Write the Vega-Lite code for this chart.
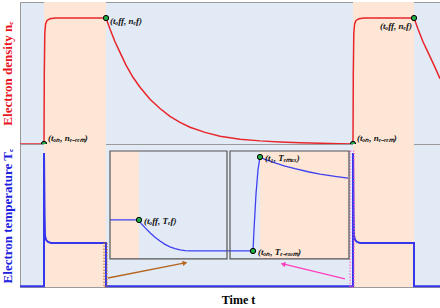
{
  "$schema": "https://vega.github.io/schema/vega-lite/v6.json",
  "padding": {"left": 0, "top": 1, "right": 0, "bottom": 0},
  "spacing": 0,
  "bounds": "flush",
  "config": {
    "view": {"stroke": "#9a9a9a", "fill": "#e2eaf6", "strokeWidth": 1},
    "axis": {"labels": false, "ticks": false, "domain": false, "grid": false, "titleFont": "Liberation Serif", "titleFontWeight": "bold", "titleFontSize": 13, "minExtent": 0},
    "text": {"font": "Liberation Serif", "fontWeight": "bold", "fontStyle": "italic", "fontSize": 9, "baseline": "middle", "color": "#111111"}
  },
  "datasets": {
    "bands": [{"t0": 24, "t1": 86}, {"t0": 333, "t1": 394}],
    "ne": [
      {"t": 0, "v": 0}, {"t": 24, "v": 0}, {"t": 24.3, "v": 0.5}, {"t": 24.8, "v": 0.78}, {"t": 25.6, "v": 0.845},
      {"t": 27, "v": 0.87}, {"t": 30, "v": 0.882}, {"t": 35, "v": 0.887}, {"t": 86, "v": 0.887},
      {"t": 90, "v": 0.81}, {"t": 95, "v": 0.72}, {"t": 100, "v": 0.645}, {"t": 106, "v": 0.555},
      {"t": 113, "v": 0.47}, {"t": 120, "v": 0.4}, {"t": 130, "v": 0.315}, {"t": 140, "v": 0.25},
      {"t": 150, "v": 0.195}, {"t": 160, "v": 0.152}, {"t": 170, "v": 0.118}, {"t": 185, "v": 0.082},
      {"t": 200, "v": 0.055}, {"t": 220, "v": 0.034}, {"t": 240, "v": 0.022}, {"t": 260, "v": 0.014},
      {"t": 280, "v": 0.009}, {"t": 300, "v": 0.005}, {"t": 320, "v": 0.002}, {"t": 333, "v": 0},
      {"t": 333.3, "v": 0.5}, {"t": 333.8, "v": 0.78}, {"t": 334.6, "v": 0.845}, {"t": 336, "v": 0.87},
      {"t": 339, "v": 0.882}, {"t": 344, "v": 0.887}, {"t": 394, "v": 0.887}, {"t": 398, "v": 0.81},
      {"t": 403, "v": 0.72}, {"t": 408, "v": 0.645}, {"t": 414, "v": 0.555}, {"t": 420, "v": 0.46}
    ],
    "te": [
      {"i": 0, "t": 0, "v": 0.005}, {"i": 1, "t": 24, "v": 0.005}, {"i": 2, "t": 24, "v": 0.937},
      {"i": 3, "t": 24.6, "v": 0.5}, {"i": 4, "t": 25, "v": 0.36}, {"i": 5, "t": 26, "v": 0.33},
      {"i": 6, "t": 28, "v": 0.315}, {"i": 7, "t": 31, "v": 0.308}, {"i": 8, "t": 86, "v": 0.308},
      {"i": 9, "t": 86, "v": 0.005}, {"i": 10, "t": 333, "v": 0.005}, {"i": 11, "t": 333, "v": 0.937},
      {"i": 12, "t": 333.6, "v": 0.5}, {"i": 13, "t": 334, "v": 0.36}, {"i": 14, "t": 335, "v": 0.33},
      {"i": 15, "t": 337, "v": 0.315}, {"i": 16, "t": 340, "v": 0.308}, {"i": 17, "t": 394, "v": 0.308},
      {"i": 18, "t": 394, "v": 0.005}, {"i": 19, "t": 420, "v": 0.005}
    ],
    "insetBands": [
      {"t0": 90, "t1": 119, "v0": 0.196, "v1": 0.951, "kind": "on"},
      {"t0": 119, "t1": 207, "v0": 0.196, "v1": 0.951, "kind": "off"},
      {"t0": 210, "t1": 240, "v0": 0.196, "v1": 0.951, "kind": "off"},
      {"t0": 240, "t1": 329, "v0": 0.196, "v1": 0.951, "kind": "on"}
    ],
    "insetBoxes": [
      {"t0": 90, "t1": 207, "v0": 0.196, "v1": 0.951},
      {"t0": 210, "t1": 329, "v0": 0.196, "v1": 0.951}
    ],
    "insetLine": [
      {"t": 90, "v": 0.469}, {"t": 119, "v": 0.469}, {"t": 121, "v": 0.445}, {"t": 125, "v": 0.415},
      {"t": 130, "v": 0.38}, {"t": 135, "v": 0.348}, {"t": 140, "v": 0.322}, {"t": 145, "v": 0.298},
      {"t": 150, "v": 0.281}, {"t": 155, "v": 0.268}, {"t": 160, "v": 0.259}, {"t": 165, "v": 0.254},
      {"t": 170, "v": 0.252}, {"t": 233, "v": 0.252}, {"t": 234, "v": 0.4}, {"t": 236, "v": 0.65},
      {"t": 238, "v": 0.82}, {"t": 240, "v": 0.909}, {"t": 245, "v": 0.893}, {"t": 255, "v": 0.868},
      {"t": 265, "v": 0.846}, {"t": 275, "v": 0.827}, {"t": 288, "v": 0.806}, {"t": 300, "v": 0.789},
      {"t": 315, "v": 0.774}, {"t": 328, "v": 0.762}
    ],
    "dotted": [
      {"t0": 84, "t1": 87, "v0": 0, "v1": 0.308, "c": "fall"},
      {"t0": 330, "t1": 334, "v0": 0, "v1": 0.951, "c": "rise"}
    ],
    "arrows": [
      {"id": "fall", "t": 88, "v": 0.063}, {"id": "fall", "t": 165, "v": 0.168},
      {"id": "rise", "t": 325, "v": 0.056}, {"id": "rise", "t": 263, "v": 0.161}
    ],
    "ptsTop": [
      {"t": 24, "v": 0, "k": "on", "label": "(tₒₙ, nₑ₋ᵣₑₘ)"},
      {"t": 86, "v": 0.887, "k": "off1", "label": "(tₒff, nₑf)"},
      {"t": 333, "v": 0, "k": "on", "label": "(tₒₙ, nₑ₋ᵣₑₘ)"},
      {"t": 394, "v": 0.887, "k": "off2", "label": "(tₒff, nₑf)"}
    ],
    "ptsBottom": [
      {"t": 119, "v": 0.469, "label": "(tₒff, Tₑf)"},
      {"t": 240, "v": 0.909, "label": "(t₁, Tₑₘₐₓ)"},
      {"t": 233, "v": 0.252, "label": "(tₒₙ, Tₑ₋ᵣₒₒₘ)"}
    ]
  },
  "vconcat": [
    {
      "width": 420,
      "height": 142,
      "layer": [
        {
          "data": {"name": "bands"},
          "mark": {"type": "rect", "color": "#fde6d5"},
          "encoding": {
            "x": {"field": "t0", "type": "quantitative", "scale": {"domain": [0, 420], "nice": false, "zero": false}, "axis": null},
            "x2": {"field": "t1"}
          }
        },
        {
          "data": {"name": "ne"},
          "mark": {"type": "line", "color": "#e8262a", "strokeWidth": 1.5},
          "encoding": {
            "x": {"field": "t", "type": "quantitative", "scale": {"domain": [0, 420], "nice": false, "zero": false}, "axis": null},
            "y": {"field": "v", "type": "quantitative", "scale": {"domain": [0, 1], "nice": false}, "axis": {"title": "Electron density nₑ", "titleColor": "#e8141e", "titlePadding": 6}}
          }
        },
        {
          "data": {"name": "ptsTop"},
          "mark": {"type": "point", "filled": true, "fill": "#22aa44", "stroke": "#000000", "strokeWidth": 1, "size": 28, "opacity": 1},
          "encoding": {
            "x": {"field": "t", "type": "quantitative", "scale": {"domain": [0, 420], "nice": false, "zero": false}, "axis": null},
            "y": {"field": "v", "type": "quantitative", "scale": {"domain": [0, 1], "nice": false}, "axis": {"title": "Electron density nₑ", "titleColor": "#e8141e", "titlePadding": 6}}
          }
        },
        {
          "data": {"name": "ptsTop"},
          "transform": [{"filter": "datum.k === 'on'"}],
          "mark": {"type": "text", "align": "left", "dx": 4, "dy": -6},
          "encoding": {
            "x": {"field": "t", "type": "quantitative", "scale": {"domain": [0, 420], "nice": false, "zero": false}, "axis": null},
            "y": {"field": "v", "type": "quantitative", "scale": {"domain": [0, 1], "nice": false}, "axis": {"title": "Electron density nₑ", "titleColor": "#e8141e", "titlePadding": 6}},
            "text": {"field": "label"}
          }
        },
        {
          "data": {"name": "ptsTop"},
          "transform": [{"filter": "datum.k === 'off1'"}],
          "mark": {"type": "text", "align": "left", "dx": 4, "dy": 3},
          "encoding": {
            "x": {"field": "t", "type": "quantitative", "scale": {"domain": [0, 420], "nice": false, "zero": false}, "axis": null},
            "y": {"field": "v", "type": "quantitative", "scale": {"domain": [0, 1], "nice": false}, "axis": {"title": "Electron density nₑ", "titleColor": "#e8141e", "titlePadding": 6}},
            "text": {"field": "label"}
          }
        },
        {
          "data": {"name": "ptsTop"},
          "transform": [{"filter": "datum.k === 'off2'"}],
          "mark": {"type": "text", "align": "right", "dx": -2, "dy": 8},
          "encoding": {
            "x": {"field": "t", "type": "quantitative", "scale": {"domain": [0, 420], "nice": false, "zero": false}, "axis": null},
            "y": {"field": "v", "type": "quantitative", "scale": {"domain": [0, 1], "nice": false}, "axis": {"title": "Electron density nₑ", "titleColor": "#e8141e", "titlePadding": 6}},
            "text": {"field": "label"}
          }
        }
      ]
    },
    {
      "width": 420,
      "height": 143,
      "layer": [
        {
          "data": {"name": "bands"},
          "mark": {"type": "rect", "color": "#fde6d5"},
          "encoding": {
            "x": {"field": "t0", "type": "quantitative", "scale": {"domain": [0, 420], "nice": false, "zero": false}, "axis": {"title": "Time t", "titlePadding": 7, "titleX": 218, "titleFontSize": 12}},
            "x2": {"field": "t1"}
          }
        },
        {
          "data": {"name": "te"},
          "mark": {"type": "line", "color": "#3636ec", "strokeWidth": 2},
          "encoding": {
            "x": {"field": "t", "type": "quantitative", "scale": {"domain": [0, 420], "nice": false, "zero": false}, "axis": {"title": "Time t", "titlePadding": 7, "titleX": 218, "titleFontSize": 12}},
            "y": {"field": "v", "type": "quantitative", "scale": {"domain": [0, 1], "nice": false}, "axis": {"title": "Electron temperature Tₑ", "titleColor": "#2020e0", "titlePadding": 6}},
            "order": {"field": "i", "type": "quantitative"}
          }
        },
        {
          "data": {"name": "dotted"},
          "mark": {"type": "rect", "fill": null, "fillOpacity": 0, "strokeWidth": 1, "strokeDash": [1.5, 1.5]},
          "encoding": {
            "x": {"field": "t0", "type": "quantitative", "scale": {"domain": [0, 420], "nice": false, "zero": false}, "axis": {"title": "Time t", "titlePadding": 7, "titleX": 218, "titleFontSize": 12}},
            "x2": {"field": "t1"},
            "y": {"field": "v0", "type": "quantitative", "scale": {"domain": [0, 1], "nice": false}, "axis": {"title": "Electron temperature Tₑ", "titleColor": "#2020e0", "titlePadding": 6}},
            "y2": {"field": "v1"},
            "stroke": {"field": "c", "type": "nominal", "scale": {"domain": ["fall", "rise"], "range": ["#b5651d", "#ff4fc8"]}, "legend": null}
          }
        },
        {
          "data": {"name": "insetBands"},
          "mark": {"type": "rect", "opacity": 1},
          "encoding": {
            "x": {"field": "t0", "type": "quantitative", "scale": {"domain": [0, 420], "nice": false, "zero": false}, "axis": {"title": "Time t", "titlePadding": 7, "titleX": 218, "titleFontSize": 12}},
            "x2": {"field": "t1"},
            "y": {"field": "v0", "type": "quantitative", "scale": {"domain": [0, 1], "nice": false}, "axis": {"title": "Electron temperature Tₑ", "titleColor": "#2020e0", "titlePadding": 6}},
            "y2": {"field": "v1"},
            "fill": {"field": "kind", "type": "nominal", "scale": {"domain": ["on", "off"], "range": ["#fde6d5", "#e2eaf6"]}, "legend": null}
          }
        },
        {
          "data": {"name": "insetLine"},
          "mark": {"type": "line", "color": "#4040f0", "strokeWidth": 1.3},
          "encoding": {
            "x": {"field": "t", "type": "quantitative", "scale": {"domain": [0, 420], "nice": false, "zero": false}, "axis": {"title": "Time t", "titlePadding": 7, "titleX": 218, "titleFontSize": 12}},
            "y": {"field": "v", "type": "quantitative", "scale": {"domain": [0, 1], "nice": false}, "axis": {"title": "Electron temperature Tₑ", "titleColor": "#2020e0", "titlePadding": 6}}
          }
        },
        {
          "data": {"name": "insetBoxes"},
          "mark": {"type": "rect", "fill": null, "fillOpacity": 0, "stroke": "#555555", "strokeWidth": 1.2},
          "encoding": {
            "x": {"field": "t0", "type": "quantitative", "scale": {"domain": [0, 420], "nice": false, "zero": false}, "axis": {"title": "Time t", "titlePadding": 7, "titleX": 218, "titleFontSize": 12}},
            "x2": {"field": "t1"},
            "y": {"field": "v0", "type": "quantitative", "scale": {"domain": [0, 1], "nice": false}, "axis": {"title": "Electron temperature Tₑ", "titleColor": "#2020e0", "titlePadding": 6}},
            "y2": {"field": "v1"}
          }
        },
        {
          "data": {"name": "arrows"},
          "mark": {"type": "line", "strokeWidth": 1.3},
          "encoding": {
            "x": {"field": "t", "type": "quantitative", "scale": {"domain": [0, 420], "nice": false, "zero": false}, "axis": {"title": "Time t", "titlePadding": 7, "titleX": 218, "titleFontSize": 12}},
            "y": {"field": "v", "type": "quantitative", "scale": {"domain": [0, 1], "nice": false}, "axis": {"title": "Electron temperature Tₑ", "titleColor": "#2020e0", "titlePadding": 6}},
            "detail": {"field": "id"},
            "color": {"field": "id", "type": "nominal", "scale": {"domain": ["fall", "rise"], "range": ["#b5651d", "#ff3fbf"]}, "legend": null}
          }
        },
        {
          "data": {"name": "arrows"},
          "transform": [{"filter": "datum.id === 'fall' && datum.t > 100"}],
          "mark": {"type": "point", "shape": "triangle-right", "filled": true, "color": "#b5651d", "size": 30, "angle": -11, "opacity": 1},
          "encoding": {
            "x": {"field": "t", "type": "quantitative", "scale": {"domain": [0, 420], "nice": false, "zero": false}, "axis": {"title": "Time t", "titlePadding": 7, "titleX": 218, "titleFontSize": 12}},
            "y": {"field": "v", "type": "quantitative", "scale": {"domain": [0, 1], "nice": false}, "axis": {"title": "Electron temperature Tₑ", "titleColor": "#2020e0", "titlePadding": 6}}
          }
        },
        {
          "data": {"name": "arrows"},
          "transform": [{"filter": "datum.id === 'rise' && datum.t < 300"}],
          "mark": {"type": "point", "shape": "triangle-left", "filled": true, "color": "#ff3fbf", "size": 30, "angle": 14, "opacity": 1},
          "encoding": {
            "x": {"field": "t", "type": "quantitative", "scale": {"domain": [0, 420], "nice": false, "zero": false}, "axis": {"title": "Time t", "titlePadding": 7, "titleX": 218, "titleFontSize": 12}},
            "y": {"field": "v", "type": "quantitative", "scale": {"domain": [0, 1], "nice": false}, "axis": {"title": "Electron temperature Tₑ", "titleColor": "#2020e0", "titlePadding": 6}}
          }
        },
        {
          "data": {"name": "ptsBottom"},
          "mark": {"type": "point", "filled": true, "fill": "#22aa44", "stroke": "#000000", "strokeWidth": 1, "size": 28, "opacity": 1},
          "encoding": {
            "x": {"field": "t", "type": "quantitative", "scale": {"domain": [0, 420], "nice": false, "zero": false}, "axis": {"title": "Time t", "titlePadding": 7, "titleX": 218, "titleFontSize": 12}},
            "y": {"field": "v", "type": "quantitative", "scale": {"domain": [0, 1], "nice": false}, "axis": {"title": "Electron temperature Tₑ", "titleColor": "#2020e0", "titlePadding": 6}}
          }
        },
        {
          "data": {"name": "ptsBottom"},
          "mark": {"type": "text", "align": "left", "dx": 5, "dy": 1},
          "encoding": {
            "x": {"field": "t", "type": "quantitative", "scale": {"domain": [0, 420], "nice": false, "zero": false}, "axis": {"title": "Time t", "titlePadding": 7, "titleX": 218, "titleFontSize": 12}},
            "y": {"field": "v", "type": "quantitative", "scale": {"domain": [0, 1], "nice": false}, "axis": {"title": "Electron temperature Tₑ", "titleColor": "#2020e0", "titlePadding": 6}},
            "text": {"field": "label"}
          }
        }
      ]
    }
  ]
}
